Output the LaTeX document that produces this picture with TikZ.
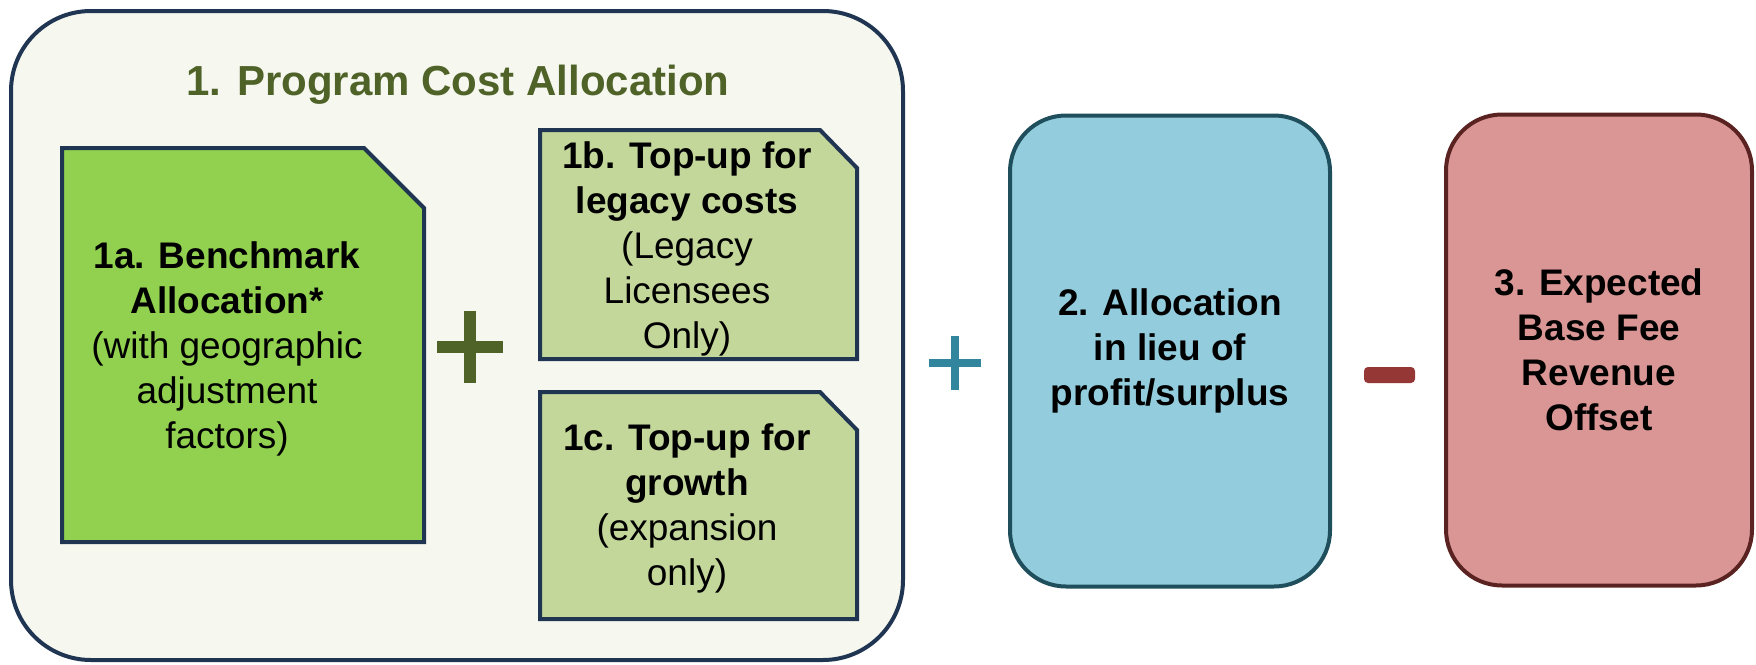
\documentclass[tikz,border=0pt]{standalone}
\usepackage{fontspec}
\setmainfont{Liberation Sans}
\definecolor{paneback}{HTML}{F6F7EF}
\definecolor{navyline}{HTML}{1F3552}
\definecolor{titleolive}{HTML}{4F6228}
\definecolor{benchgreen}{HTML}{92D050}
\definecolor{topupgreen}{HTML}{C4D79B}
\definecolor{aquafill}{HTML}{93CDDD}
\definecolor{tealline}{HTML}{1F4E5C}
\definecolor{pluscol}{HTML}{31859C}
\definecolor{rosefill}{HTML}{D99694}
\definecolor{redline}{HTML}{5A2321}
\definecolor{minuscol}{HTML}{953735}
\begin{document}
\begin{tikzpicture}[x=0.5pt,y=-0.5pt,
    boxline/.style={line width=2pt},
    txt/.style={align=center,font=\fontsize{18.5}{22.5}\selectfont},
    roundbox/.style={boxline,rounded corners=28pt,minimum width=160pt,minimum height=235.5pt,
      align=center,font=\fontsize{18.5}{22.5}\selectfont\bfseries}]
  \useasboundingbox (0,0) rectangle (1756,664);

  % program cost panel
  \draw[boxline, draw=navyline, fill=paneback, rounded corners=40pt] (11,11) rectangle (903,660);
  \node[font=\fontsize{21}{25}\selectfont\bfseries, text=titleolive] (T) at (458,85) {1. Program Cost Allocation};

  \coordinate (A1) at (62,148);
  \coordinate (A2) at (364,148);
  \coordinate (A3) at (424,208);
  \coordinate (A4) at (424,542);
  \coordinate (A5) at (62,542);
  \draw[boxline, draw=navyline, fill=benchgreen] (A1) -- (A2) -- (A3) -- (A4) -- (A5) -- cycle;
  \node[txt] (Ta) at (227,349) {\textbf{1a. Benchmark}\\\textbf{Allocation*}\\(with geographic\\adjustment\\factors)};

  \coordinate (B1) at (540,130);
  \coordinate (B2) at (820,130);
  \coordinate (B3) at (857,168);
  \coordinate (B4) at (857,359);
  \coordinate (B5) at (540,359);
  \draw[boxline, draw=navyline, fill=topupgreen] (B1) -- (B2) -- (B3) -- (B4) -- (B5) -- cycle;
  \node[txt] (Tb) at (687,249) {\textbf{1b. Top-up for}\\\textbf{legacy costs}\\(Legacy\\Licensees\\Only)};

  \coordinate (C1) at (540,392);
  \coordinate (C2) at (820,392);
  \coordinate (C3) at (857,430);
  \coordinate (C4) at (857,619);
  \coordinate (C5) at (540,619);
  \draw[boxline, draw=navyline, fill=topupgreen] (C1) -- (C2) -- (C3) -- (C4) -- (C5) -- cycle;
  \node[txt] (Tc) at (687,508) {\textbf{1c. Top-up for}\\\textbf{growth}\\(expansion\\only)};

  % green plus
  \draw[line width=6pt, titleolive] (437,347) -- (503,347) (470,311) -- (470,383);

  % other terms
  \draw[line width=4pt, pluscol] (929,363) -- (981,363) (955,336) -- (955,390);
  \node[roundbox, draw=tealline, fill=aquafill] (S) at (1170,351) {2. Allocation\\in lieu of\\profit/surplus};

  \fill[minuscol, rounded corners=2pt] (1364,367) rectangle (1415,383);
  \node[roundbox, minimum width=153pt, draw=redline, fill=rosefill] (R) at (1599,350) {3. Expected\\Base Fee\\Revenue\\Offset};
\end{tikzpicture}
\end{document}
